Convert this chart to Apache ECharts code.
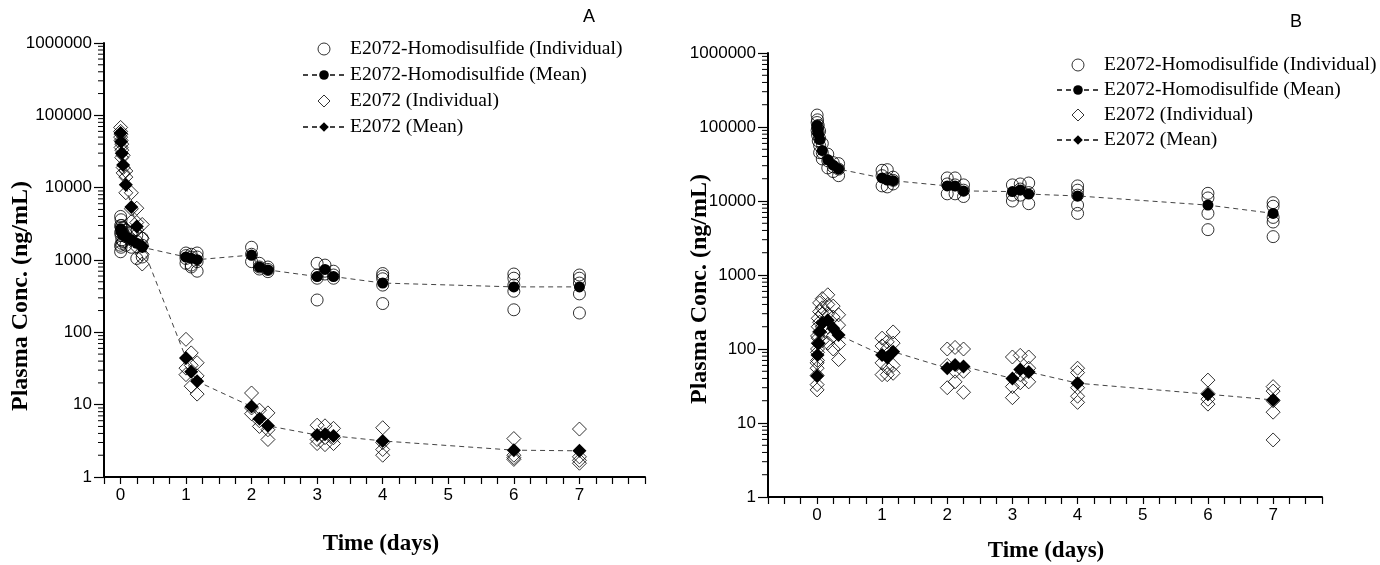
<!DOCTYPE html>
<html>
<head>
<meta charset="utf-8">
<script src="https://cdn.jsdelivr.net/npm/echarts@6/dist/echarts.min.js"></script>
<style>
  html, body { margin: 0; padding: 0; background: #fff; }
  #chart { width: 1380px; height: 565px; }
</style>
</head>
<body>
<div id="chart"></div>
<script>
// sampling times (days), same for both panels
const times = [0.0035, 0.01, 0.021, 0.042, 0.083, 0.167, 0.25, 0.333, 1.0, 1.08, 1.17, 2.0, 2.12, 2.25, 3.0, 3.12, 3.25, 4, 6, 7];

// panel A - means
const aHomoMean = [2700, 2500, 2350, 2250, 2100, 1900, 1700, 1500, 1100, 1060, 1010, 1170, 800, 730, 590, 740, 590, 480, 425, 425];
const aE2072Mean = [57000, 43000, 30000, 20500, 11000, 5400, 2900, 1550, 44, 28.5, 21, 9.4, 6.4, 5.1, 3.8, 3.9, 3.7, 3.15, 2.35, 2.3];

// panel A - individuals (one list per time)
const aHomoInd = [
  [4000, 3000, 2400, 1600, 1300], [3600, 2800, 2200, 1500], [3000, 2500, 1900, 1700], [2800, 2300, 1800],
  [2600, 2100, 1600], [2400, 1900, 1500], [2200, 1800, 1050], [2000, 1600, 1100],
  [1250, 1150, 1050, 900], [1200, 1100, 850, 800], [1250, 1100, 950, 700],
  [1500, 1200, 950], [900, 800, 750], [800, 740, 690],
  [900, 620, 560, 280], [850, 700, 640], [700, 620, 560],
  [650, 600, 550, 450, 250], [640, 560, 450, 370, 205], [620, 560, 480, 340, 185]
];
const aE2072Ind = [
  [68000, 60000, 50000], [55000, 45000, 36000], [40000, 33000, 26000], [28000, 19000, 16000],
  [17000, 14000, 8500], [8500, 5100, 3400], [5200, 3300, 2600, 1500], [3100, 2000, 1200, 880],
  [80, 32, 26], [52, 35, 18], [38, 25, 14],
  [14.5, 9, 7.5], [8.4, 6, 5], [7.7, 4.5, 3.3],
  [5.2, 3.3, 2.9], [5.1, 3.5, 2.8], [4.7, 3.5, 2.9],
  [4.8, 3.0, 2.4, 2.0], [3.4, 2.0, 1.85, 1.75], [4.6, 1.9, 1.7, 1.55]
];

// panel B - means
const bHomoMean = [105000, 95000, 82000, 68000, 48000, 36000, 30500, 27000, 20500, 19200, 18800, 16000, 16000, 13700, 13400, 14100, 12400, 11700, 8800, 6800];
const bE2072Mean = [43, 83, 119, 171, 225, 245, 190, 155, 83, 77, 92, 55, 61, 58, 40, 53, 49, 34.5, 24.5, 20.5];

// panel B - individuals
const bHomoInd = [
  [145000, 115000, 90000], [125000, 100000, 78000], [105000, 85000, 65000], [88000, 70000, 56000, 45000],
  [60000, 45000, 37000], [43000, 35000, 28000], [33000, 29000, 25000], [32000, 27000, 22000],
  [26000, 22000, 16000], [26500, 20000, 15500], [21000, 19000, 17000],
  [20500, 17000, 12500], [20500, 16500, 12500], [16500, 14000, 11500],
  [16500, 12000, 10000], [17000, 14500, 12000], [17500, 13000, 9200],
  [16000, 14000, 12000, 8800, 6800], [12700, 11000, 6800, 4100], [9500, 8500, 6000, 5200, 3300]
];
const bE2072Ind = [
  [28, 33, 44, 55, 65], [70, 90, 100, 150], [120, 140, 200, 260], [170, 230, 320, 420],
  [130, 200, 300, 360, 480], [120, 200, 300, 400, 540], [100, 150, 270, 380], [72, 115, 210, 290],
  [140, 110, 65, 45], [125, 100, 55, 45], [170, 120, 60, 47],
  [100, 60, 30], [105, 50, 36], [100, 50, 26],
  [78, 31, 22], [82, 45, 35], [78, 55, 36],
  [55, 48, 30, 23, 19], [38, 25, 21, 18], [31, 27, 20, 14, 5.9]
];

// axis settings
const xRangeA = [-0.25, 8];
const xRangeB = [-0.75, 7.75];
const xLabels = [0, 1, 2, 3, 4, 5, 6, 7];
const yRange = [1, 1000000];

const names = ['E2072-Homodisulfide (Individual)', 'E2072-Homodisulfide (Mean)', 'E2072 (Individual)', 'E2072 (Mean)'];

// minor tick values of the log axis (2..9 x 10^n)
const minorTicks = [];
for (let e = 0; e < 6; e++) {
  for (let k = 2; k <= 9; k++) minorTicks.push(k * Math.pow(10, e));
}

const sans = "'Liberation Sans', Arial, sans-serif";
const serif = "'Liberation Serif', 'Times New Roman', serif";
const diamondIcon = 'path://M0,-1L1,0L0,1L-1,0Z';

function pairs(vals) {
  return times.map((t, i) => [t, vals[i]]);
}
function indPairs(lists) {
  const out = [];
  lists.forEach((l, i) => l.forEach(v => out.push([times[i], v])));
  return out;
}

function xAxisFor(idx, range) {
  return {
    type: 'value', gridIndex: idx, min: range[0], max: range[1], interval: 0.25,
    axisLine: { onZero: false, lineStyle: { color: '#000', width: 2 } },
    axisTick: { length: 7, lineStyle: { color: '#000', width: 1.2 } },
    axisLabel: {
      color: '#000', fontFamily: sans, fontSize: 17, margin: 10,
      formatter: v => (Math.abs(v - Math.round(v)) < 1e-6 && xLabels.includes(Math.round(v))) ? String(Math.round(v)) : ''
    },
    splitLine: { show: false }
  };
}
function yAxisFor(idx) {
  return {
    type: 'log', logBase: 10, gridIndex: idx, min: yRange[0], max: yRange[1],
    axisLine: { show: true, onZero: false, lineStyle: { color: '#000', width: 2 } },
    axisTick: { length: 10, lineStyle: { color: '#000', width: 1.2 } },
    axisLabel: { color: '#000', fontFamily: sans, fontSize: 17, margin: 12, formatter: v => String(Math.round(v)) },
    splitLine: { show: false }
  };
}

const openStyle = { color: 'rgba(255,255,255,0)', borderColor: '#000', borderWidth: 1 };
const meanLine = { color: '#444', width: 1, type: [5, 4] };

function panelSeries(idx, homoInd, homoMean, e2072Ind, e2072Mean) {
  return [
    { name: names[0], type: 'scatter', xAxisIndex: idx, yAxisIndex: idx, symbol: 'circle', symbolSize: 12,
      itemStyle: openStyle, data: indPairs(homoInd), z: 2 },
    { name: names[2], type: 'scatter', xAxisIndex: idx, yAxisIndex: idx, symbol: 'diamond', symbolSize: 14,
      itemStyle: openStyle, data: indPairs(e2072Ind), z: 2 },
    { name: names[1], type: 'line', xAxisIndex: idx, yAxisIndex: idx, symbol: 'circle', symbolSize: 11,
      showSymbol: true, itemStyle: { color: '#000' }, lineStyle: meanLine, data: pairs(homoMean), z: 3 },
    { name: names[3], type: 'line', xAxisIndex: idx, yAxisIndex: idx, symbol: 'diamond', symbolSize: 14,
      showSymbol: true, itemStyle: { color: '#000' }, lineStyle: meanLine, data: pairs(e2072Mean), z: 3 },
    { type: 'custom', xAxisIndex: idx, yAxisIndex: idx, silent: true, z: 5,
      data: minorTicks.map(v => [idx === 0 ? xRangeA[0] : xRangeB[0], v]),
      renderItem: (params, api) => {
        const p = api.coord([api.value(0), api.value(1)]);
        return { type: 'line', shape: { x1: p[0] - 6, y1: p[1], x2: p[0], y2: p[1] },
          style: { stroke: '#000', lineWidth: 1 } };
      } }
  ];
}

function legendFor(left, top, gap) {
  return {
    data: [
      { name: names[0], icon: 'circle' },
      { name: names[1] },
      { name: names[2], icon: diamondIcon },
      { name: names[3] }
    ],
    orient: 'vertical', left: left, top: top,
    itemWidth: 42, itemHeight: 12, itemGap: gap, symbolKeepAspect: true,
    itemStyle: { borderWidth: 1 },
    textStyle: { fontFamily: serif, fontSize: 19.5, color: '#000', lineHeight: 20 },
    selectedMode: false
  };
}

const chart = echarts.init(document.getElementById('chart'));
chart.setOption({
  backgroundColor: '#fff',
  animation: false,
  grid: [
    { left: 104, top: 43, width: 541, height: 434 },
    { left: 768, top: 53, width: 554, height: 444 }
  ],
  xAxis: [xAxisFor(0, xRangeA), xAxisFor(1, xRangeB)],
  yAxis: [yAxisFor(0), yAxisFor(1)],
  legend: [legendFor(297, 34, 6), legendFor(1051, 50, 5)],
  series: [
    ...panelSeries(0, aHomoInd, aHomoMean, aE2072Ind, aE2072Mean),
    ...panelSeries(1, bHomoInd, bHomoMean, bE2072Ind, bE2072Mean)
  ],
  graphic: [
    { type: 'text', left: 583, top: 8, style: { text: 'A', font: '18px ' + sans, fill: '#000' } },
    { type: 'text', left: 1290, top: 13, style: { text: 'B', font: '18px ' + sans, fill: '#000' } },
    { type: 'text', x: 21, y: 296, rotation: Math.PI / 2,
      style: { text: 'Plasma Conc. (ng/mL)', font: 'bold 24px ' + serif, fill: '#000', align: 'center', verticalAlign: 'middle' } },
    { type: 'text', x: 700, y: 289, rotation: Math.PI / 2,
      style: { text: 'Plasma Conc. (ng/mL)', font: 'bold 24px ' + serif, fill: '#000', align: 'center', verticalAlign: 'middle' } },
    { type: 'text', x: 381, y: 544,
      style: { text: 'Time (days)', font: 'bold 23px ' + serif, fill: '#000', align: 'center', verticalAlign: 'middle' } },
    { type: 'text', x: 1046, y: 551,
      style: { text: 'Time (days)', font: 'bold 23px ' + serif, fill: '#000', align: 'center', verticalAlign: 'middle' } }
  ]
});
</script>
</body>
</html>
